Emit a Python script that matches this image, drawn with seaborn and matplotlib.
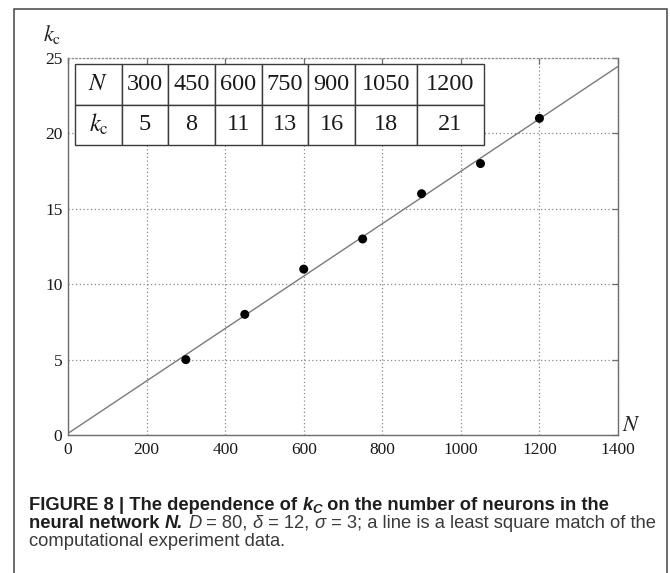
import numpy as np
import pandas as pd
import matplotlib
matplotlib.use("Agg")
import matplotlib.pyplot as plt
import matplotlib.patches as mpatches
import seaborn as sns

# ---- data ----
N_values = [300, 450, 600, 750, 900, 1050, 1200]
kc_values = [5, 8, 11, 13, 16, 18, 21]
x_ticks = [0, 200, 400, 600, 800, 1000, 1200, 1400]
y_ticks = [0, 5, 10, 15, 20, 25]
table_row_labels = [r"$N$", r"$k_{\mathrm{c}}$"]

df = pd.DataFrame({"N": N_values, "kc": kc_values})

sns.set_theme(style="white")
plt.rcParams["mathtext.fontset"] = "stix"
plt.rcParams["font.family"] = ["Liberation Serif", "DejaVu Serif"]

W, H = 670, 573
fig = plt.figure(figsize=(W / 100, H / 100), dpi=100)
fig.patch.set_facecolor("white")

L, R, T, B = 68, 618, 58, 435
ax = fig.add_axes([L / W, 1 - B / H, (R - L) / W, (B - T) / H])

ax.set_xlim(0, 1400)
ax.set_ylim(0, 25)

sns.regplot(data=df, x="N", y="kc", ax=ax, ci=None, truncate=False,
            scatter_kws={"s": 42, "color": "black", "alpha": 1.0,
                         "edgecolor": "none", "zorder": 4},
            line_kws={"color": "#7a7a7a", "lw": 1.0, "zorder": 3})

ax.set_xticks(x_ticks)
ax.set_yticks(y_ticks)
ax.set_xlabel("")
ax.set_ylabel("")
ax.grid(True, linestyle=(0, (1, 2)), color="#8a8a8a", lw=0.9)
ax.set_axisbelow(True)

for s in ["left", "bottom", "right"]:
    ax.spines[s].set_color("#6e6e6e")
    ax.spines[s].set_linewidth(1.0)
ax.spines["top"].set_color("#8a8a8a")
ax.spines["top"].set_linestyle((0, (1, 2)))
ax.spines["top"].set_linewidth(0.9)

ax.tick_params(direction="in", length=4, width=0.9, color="#6e6e6e",
               top=True, right=True, labelsize=12.5, labelcolor="#1a1a1a")
ax.tick_params(axis="x", pad=5)
ax.tick_params(axis="y", pad=4)

ax.text(-0.028, 1.062, r"$k_{\mathrm{c}}$", transform=ax.transAxes,
        ha="center", va="center", fontsize=16, color="#222222")
ax.text(1.024, 0.022, r"$N$", transform=ax.transAxes,
        ha="center", va="center", fontsize=16, color="#222222")

# ---- table ----
cell_text = [[table_row_labels[0]] + [str(v) for v in N_values],
             [table_row_labels[1]] + [str(v) for v in kc_values]]
col_px = [47, 46, 47, 47, 46, 47, 62, 67]
aw = R - L
ah = B - T
col_w = [c / aw for c in col_px]
tx0 = (75 - L) / aw
ty0 = (B - 145) / ah
th = (145 - 64) / ah
tbl = ax.table(cellText=cell_text, colWidths=col_w, cellLoc="center",
               bbox=[tx0, ty0, sum(col_w), th])
tbl.auto_set_font_size(False)
tbl.set_fontsize(17.5)
for (r, c), cell in tbl.get_celld().items():
    cell.set_edgecolor("#3a3a3a")
    cell.set_linewidth(1.0)
    cell.set_facecolor("white")
    cell.get_text().set_color("#1a1a1a")
    cell.get_text().set_fontfamily("Liberation Serif")
tbl.set_zorder(5)

# ---- outer frame ----
frame = mpatches.Rectangle((14 / W, -0.2), (667 - 14) / W, 0.2 + (H - 9) / H,
                           transform=fig.transFigure, fill=False,
                           edgecolor="#444444", lw=1.1, clip_on=False)
fig.patches.append(frame)

# ---- caption ----
fig.canvas.draw()
renderer = fig.canvas.get_renderer()
cap_fs = 13.2
sans = "Liberation Sans"


def run_line(x_px, base_px, runs):
    x = x_px
    for txt, weight, style, sub, col in runs:
        fs = cap_fs * (0.72 if sub else 1.0)
        y = base_px + (3 if sub else 0)
        t = fig.text(x / W, 1 - y / H, txt, fontsize=fs, fontweight=weight,
                     fontstyle=style, family=sans, color=col,
                     ha="left", va="baseline")
        bb = t.get_window_extent(renderer=renderer)
        x += bb.width


BC = "#1e1e1e"
RC = "#3a3a3a"
run_line(29, 510, [("FIGURE 8 | The dependence of ", "bold", "normal", False, BC),
                   ("k", "bold", "italic", False, BC),
                   ("C", "bold", "italic", True, BC),
                   (" on the number of neurons in the", "bold", "normal", False, BC)])
run_line(29, 528, [("neural network ", "bold", "normal", False, BC),
                   ("N.", "bold", "italic", False, BC),
                   (" ", "normal", "normal", False, RC),
                   ("D", "normal", "italic", False, RC),
                   (" = 80, ", "normal", "normal", False, RC),
                   ("δ", "normal", "italic", False, RC),
                   (" = 12, ", "normal", "normal", False, RC),
                   ("σ", "normal", "italic", False, RC),
                   (" = 3; a line is a least square match of the", "normal", "normal", False, RC)])
run_line(29, 546, [("computational experiment data.", "normal", "normal", False, RC)])

fig.savefig("out.png", dpi=100, facecolor="white")
